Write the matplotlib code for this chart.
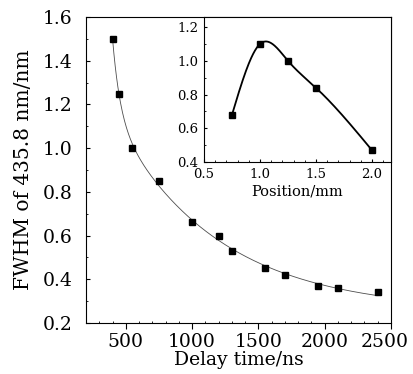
import matplotlib
matplotlib.use("Agg")
import matplotlib.pyplot as plt
import matplotlib.transforms as mtransforms
import numpy as np
from matplotlib.ticker import MultipleLocator

plt.rcParams['font.family'] = ['DejaVu Serif']
plt.rcParams['mathtext.fontset'] = 'dejavuserif'

# main data: FWHM vs delay time
delay = [400, 450, 550, 750, 1000, 1200, 1300, 1550, 1700, 1950, 2100, 2400]
fwhm = [1.50, 1.25, 1.00, 0.85, 0.66, 0.60, 0.53, 0.45, 0.42, 0.37, 0.36, 0.34]
delay_ticks = [500, 1000, 1500, 2000, 2500]

# inset data: FWHM vs position
position = [0.75, 1.0, 1.25, 1.5, 2.0]
fwhm_pos = [0.68, 1.10, 1.00, 0.84, 0.47]


def exp2_fit(x, y):
    # y = y0 + A exp(-x/t1) + B exp(-x/t2), grid search on t1, t2
    x = np.asarray(x, float)
    y = np.asarray(y, float)
    best = None
    for t1 in np.linspace(20, 400, 60):
        for t2 in np.linspace(300, 2000, 60):
            M = np.column_stack([np.ones_like(x), np.exp(-x / t1), np.exp(-x / t2)])
            c, *_ = np.linalg.lstsq(M, y, rcond=None)
            err = np.sum((M @ c - y) ** 2)
            if best is None or err < best[0]:
                best = (err, t1, t2, c)
    _, t1, t2, c = best
    return lambda xx: c[0] + c[1] * np.exp(-xx / t1) + c[2] * np.exp(-xx / t2)


def natural_spline(x, y, xx):
    x = np.asarray(x, float)
    y = np.asarray(y, float)
    n = len(x)
    h = np.diff(x)
    A = np.zeros((n, n))
    r = np.zeros(n)
    A[0, 0] = A[-1, -1] = 1
    for i in range(1, n - 1):
        A[i, i - 1] = h[i - 1]
        A[i, i] = 2 * (h[i - 1] + h[i])
        A[i, i + 1] = h[i]
        r[i] = 6 * ((y[i + 1] - y[i]) / h[i] - (y[i] - y[i - 1]) / h[i - 1])
    m = np.linalg.solve(A, r)
    k = np.clip(np.searchsorted(x, xx) - 1, 0, n - 2)
    t = xx - x[k]
    hk = h[k]
    a = (m[k + 1] - m[k]) / (6 * hk)
    b = m[k] / 2
    c = (y[k + 1] - y[k]) / hk - hk * (2 * m[k] + m[k + 1]) / 6
    return y[k] + c * t + b * t ** 2 + a * t ** 3


fig = plt.figure(figsize=(4.13, 3.74), dpi=100)
ax = fig.add_axes([86 / 413, 1 - 323 / 374, 305 / 413, 306 / 374])

f = exp2_fit(delay, fwhm)
xs = np.linspace(min(delay), max(delay), 400)
ax.plot(xs, f(xs), color='0.3', lw=0.6)
ax.plot(delay, fwhm, 's', color='black', ms=5)

ax.set_xlim(200, 2500)
ax.set_ylim(0.2, 1.6)
ax.set_xticks(delay_ticks)
ax.yaxis.set_major_locator(MultipleLocator(0.2))
ax.xaxis.set_minor_locator(MultipleLocator(100))
ax.yaxis.set_minor_locator(MultipleLocator(0.1))
ax.tick_params(axis='x', which='major', direction='out', length=4, labelsize=13.5, pad=3)
ax.tick_params(axis='y', which='major', direction='in', length=3, labelsize=13.5, pad=9.5)
ax.tick_params(which='minor', direction='in', length=1.5)
ax.set_xlabel('Delay time/ns', fontsize=13.5, labelpad=0)
ax.set_ylabel('FWHM of 435.8 nm/nm', fontsize=14.5, labelpad=7)

# nudge the last x label left so it stays inside the figure
last = ax.get_xticklabels()[-1]
last.set_transform(last.get_transform() + mtransforms.ScaledTranslation(-6 / 100, 0, fig.dpi_scale_trans))

# inset
ins = fig.add_axes([204 / 413, 1 - 162 / 374, 187 / 413, 145 / 374])
px = np.linspace(min(position), max(position), 300)
ins.plot(px, natural_spline(position, fwhm_pos, px), color='black', lw=1.3)
ins.plot(position, fwhm_pos, 's', color='black', ms=4)
ins.set_xlim(0.5, 2.17)
ins.set_ylim(0.4, 1.26)
ins.xaxis.set_major_locator(MultipleLocator(0.5))
ins.yaxis.set_major_locator(MultipleLocator(0.2))
ins.xaxis.set_minor_locator(MultipleLocator(0.1))
ins.yaxis.set_minor_locator(MultipleLocator(0.1))
ins.tick_params(which='major', direction='in', length=2.5, labelsize=9.5, pad=4)
ins.tick_params(which='minor', direction='in', length=1.2)
ins.set_xlabel('Position/mm', fontsize=10.5, labelpad=3)

fig.savefig('out.png', dpi=100)
